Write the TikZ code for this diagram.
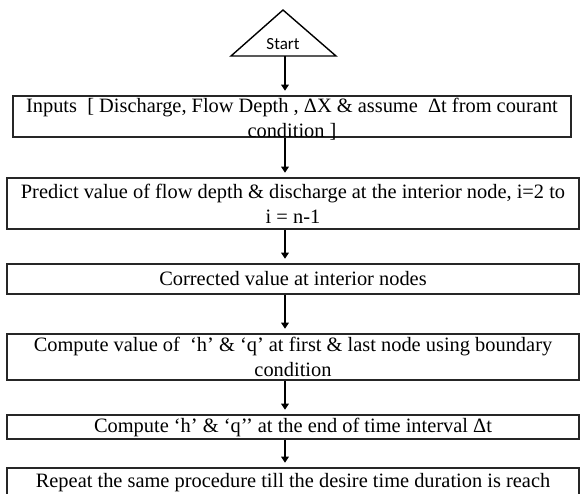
\documentclass[tikz,border=0pt]{standalone}
\usepackage{fontspec}
\setmainfont{Liberation Serif}
\newfontfamily\startfont{Carlito}
\usetikzlibrary{arrows.meta}
\begin{document}
\begin{tikzpicture}[x=1pt,y=-1pt,
  box/.style={draw=black!85, line width=1.6pt, inner sep=0pt, anchor=center},
  txt/.style={font=\fontsize{20.4}{25}\selectfont, align=center, inner sep=0pt},
  arr/.style={line width=2.6pt, -{Triangle[width=7.5pt,length=6pt]}, shorten >=4.5pt}]
\useasboundingbox (0,0) rectangle (584,493);
\clip (0,0) rectangle (584,493);

% start symbol
\coordinate (apex) at (283,10);
\coordinate (baseL) at (231,56);
\coordinate (baseR) at (336,56);
\draw[line width=1.4pt, line join=miter] (baseL) -- (apex) -- (baseR) -- cycle;
\node[inner sep=0pt, font=\startfont\fontsize{17}{20}\selectfont] (start) at (283,44) {Start};
\coordinate (startbase) at (285,56);

% process boxes
\node[box, minimum width=558pt, minimum height=41pt] (in1) at (292,116.5) {};
\node[txt] (in1t) at (292,119.5) {Inputs\ \ [ Discharge, Flow Depth , ΔX \& assume\ \ Δt from courant\\condition ]};
\node[box, minimum width=572pt, minimum height=51pt, txt] (pred) at (293,203.5)
  {Predict value of flow depth \& discharge at the interior node, i=2 to\\i = n-1};
\node[box, minimum width=572pt, minimum height=30pt, txt] (corr) at (293,279) {Corrected value at interior nodes};
\node[box, minimum width=572pt, minimum height=46pt, txt] (bnd) at (293,357) {Compute value of\ \ ‘h’ \& ‘q’ at first \& last node using boundary\\condition};
\node[box, minimum width=572pt, minimum height=24pt, txt] (endt) at (293,427) {Compute ‘h’ \& ‘q’’ at the end of time interval Δt};
\node[box, minimum width=572pt, minimum height=52pt] (rep) at (293,494) {};
\node[txt] (rept) at (293,482.5) {Repeat the same procedure till the desire time duration is reach};

% connectors
\draw[arr] (startbase) -- (startbase |- in1.north);
\draw[arr] (startbase |- in1.south) -- (startbase |- pred.north);
\draw[arr] (startbase |- pred.south) -- (startbase |- corr.north);
\draw[arr] (startbase |- corr.south) -- (startbase |- bnd.north);
\draw[arr] (startbase |- bnd.south) -- (startbase |- endt.north);
\draw[arr] (startbase |- endt.south) -- (startbase |- rep.north);
\end{tikzpicture}
\end{document}
